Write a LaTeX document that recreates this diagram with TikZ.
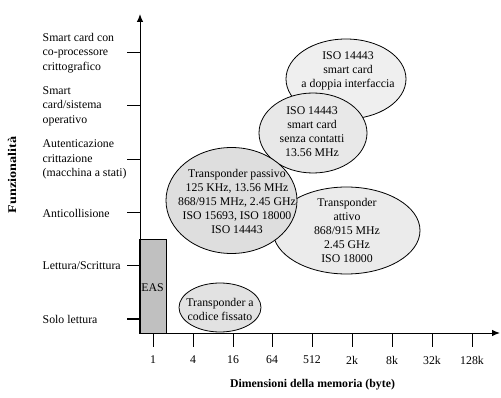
\documentclass[tikz,border=0pt]{standalone}
\usepackage{fontspec}
\setmainfont{Liberation Serif}
\usetikzlibrary{shapes.geometric,arrows.meta}
\definecolor{bubA}{HTML}{EFEFEF}
\definecolor{bubB}{HTML}{E8E8E8}
\definecolor{bubC}{HTML}{DEDEDE}
\definecolor{bubD}{HTML}{EBEBEB}
\definecolor{bubE}{HTML}{E2E2E2}
\definecolor{easfill}{HTML}{C0C0C0}
\tikzset{
  txt/.style={font=\fontsize{11.8}{14}\selectfont, align=center, inner sep=0pt},
  lbl/.style={font=\fontsize{11.8}{14.5}\selectfont, align=left, inner sep=0pt, anchor=west},
  bub/.style={draw=black, line width=0.8pt, ellipse, inner sep=0pt},
  axis/.style={line width=1pt, -{Latex[length=8pt,width=6.5pt]}},
  tick/.style={line width=1pt},
  ttl/.style={font=\fontsize{11.8}{14}\selectfont\bfseries, inner sep=0pt}
}
\begin{document}
\begin{tikzpicture}[x=1pt,y=-1pt]
\useasboundingbox (0,0) rectangle (501,398);
% ellipses
\node[bub, fill=bubA, minimum width=120pt, minimum height=80pt] (doppia) at (346,79) {};
\node[bub, fill=bubB, minimum width=108pt, minimum height=80pt] (senza) at (313,133) {};
\node[bub, fill=bubD, minimum width=147pt, minimum height=87pt] (attivo) at (346.5,230.5) {};
\node[bub, fill=bubC, minimum width=131pt, minimum height=106pt] (passivo) at (231.5,200.5) {};
\node[bub, fill=bubE, minimum width=82pt, minimum height=49pt] (fixed) at (220,307.5) {};
% EAS box
\draw[line width=0.8pt, fill=easfill] (139.5,239) rectangle (166,333);
\node[txt] (eas) at (152.5,288) {EAS};
% ellipse texts
\node[txt] (doppiaT) at (348,71) {ISO 14443\\smart card\\a doppia interfaccia};
\node[txt] (senzaT) at (312,132) {ISO 14443\\smart card\\senza contatti\\13.56 MHz};
\node[txt] (passivoT) at (237,201.5) {Transponder passivo\\125 KHz, 13.56 MHz\\868/915 MHz, 2.45 GHz\\ISO 15693, ISO 18000\\ISO 14443};
\node[txt] (attivoT) at (347,230.5) {Transponder\\attivo\\868/915 MHz\\2.45 GHz\\ISO 18000};
\node[txt] (fixedT) at (220,309) {Transponder a\\codice fissato};
% axes
\coordinate (O) at (140,333);
\coordinate (ytop) at (140,14);
\coordinate (xend) at (500,333);
\draw[axis] (O) -- (ytop);
\draw[axis] (139.5,333) -- (xend);
% y ticks and labels
\foreach \yy/\name/\t in {53/ya/{Smart card con\\co-processore\\crittografico},
                     106/yb/{Smart\\card/sistema\\operativo},
                     159.5/yc/{Autenticazione\\crittazione\\(macchina a stati)},
                     213/yd/{Anticollisione},
                     266/ye/{Lettura/Scrittura},
                     319/yf/{Solo lettura}}{
  \draw[tick] (127,\yy) -- (140,\yy);
  \node[lbl] (\name) at (42.5,\yy) {\t};
}
% x ticks and labels
\foreach \xx/\t in {153/1,193/4,233/16,272/64,312/512,352/2k,392/8k,432/32k,472/128k}{
  \draw[tick] (\xx,333) -- (\xx,347);
  \node[txt] (x\t) at (\xx,360) {\t};
}
% axis titles
\node[ttl] (xtitle) at (312.5,385) {Dimensioni della memoria (byte)};
\node[ttl, rotate=90, xscale=1.2] (ytitle) at (12,175) {Funzionalità};
\end{tikzpicture}
\end{document}
